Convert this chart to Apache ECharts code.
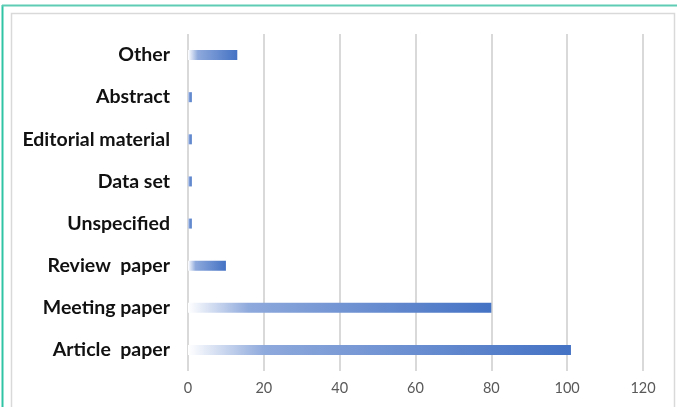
<!DOCTYPE html>
<html>
<head>
<meta charset="utf-8">
<script src="https://cdn.jsdelivr.net/npm/echarts@6/dist/echarts.min.js"></script>
<style>
html,body{margin:0;padding:0;background:#fff;}
#c{width:677px;height:407px;}
</style>
</head>
<body>
<div id="c"></div>
<script>
const categories = ['Article  paper','Meeting paper','Review  paper','Unspecified','Data set','Editorial material','Abstract','Other'];
const values = [101, 80, 10, 1, 1, 1, 1, 13];
const xTicks = {min: 0, max: 120, interval: 20};

const chart = echarts.init(document.getElementById('c'), null, {renderer: 'canvas'});
chart.setOption({
  animation: false,
  backgroundColor: '#fff',
  graphic: [
    {type: 'line', shape: {x1: 2.5, y1: 5, x2: 2.5, y2: 407}, style: {stroke: '#2ec4a4', lineWidth: 2}},
    {type: 'line', shape: {x1: 2, y1: 5.5, x2: 677, y2: 5.5}, style: {stroke: '#5fcdb6', lineWidth: 2}},
    {type: 'rect', shape: {x: 11.5, y: 13.5, width: 663, height: 400}, style: {fill: 'none', stroke: '#d9d9d9', lineWidth: 1.5}}
  ],
  grid: {left: 188, right: 34, top: 34, bottom: 36, containLabel: false},
  xAxis: {
    type: 'value', min: xTicks.min, max: xTicks.max, interval: xTicks.interval,
    axisLine: {show: false}, axisTick: {show: false},
    splitLine: {show: true, lineStyle: {color: '#d9d9d9', width: 2}},
    axisLabel: {color: '#595959', fontSize: 14.5, fontFamily: 'Lato', margin: 10}
  },
  yAxis: {
    type: 'category', data: categories,
    axisLine: {show: false}, axisTick: {show: false},
    axisLabel: {color: '#111111', fontSize: 19.5, fontWeight: 'bold', fontFamily: 'Lato', margin: 18}
  },
  series: [{
    type: 'bar', data: values, barWidth: 10,
    itemStyle: {
      color: new echarts.graphic.LinearGradient(0, 0, 1, 0, [
        {offset: 0, color: '#ffffff'},
        {offset: 0.2, color: '#8ea9dc'},
        {offset: 1, color: '#4472c4'}
      ])
    }
  }]
});
</script>
</body>
</html>
